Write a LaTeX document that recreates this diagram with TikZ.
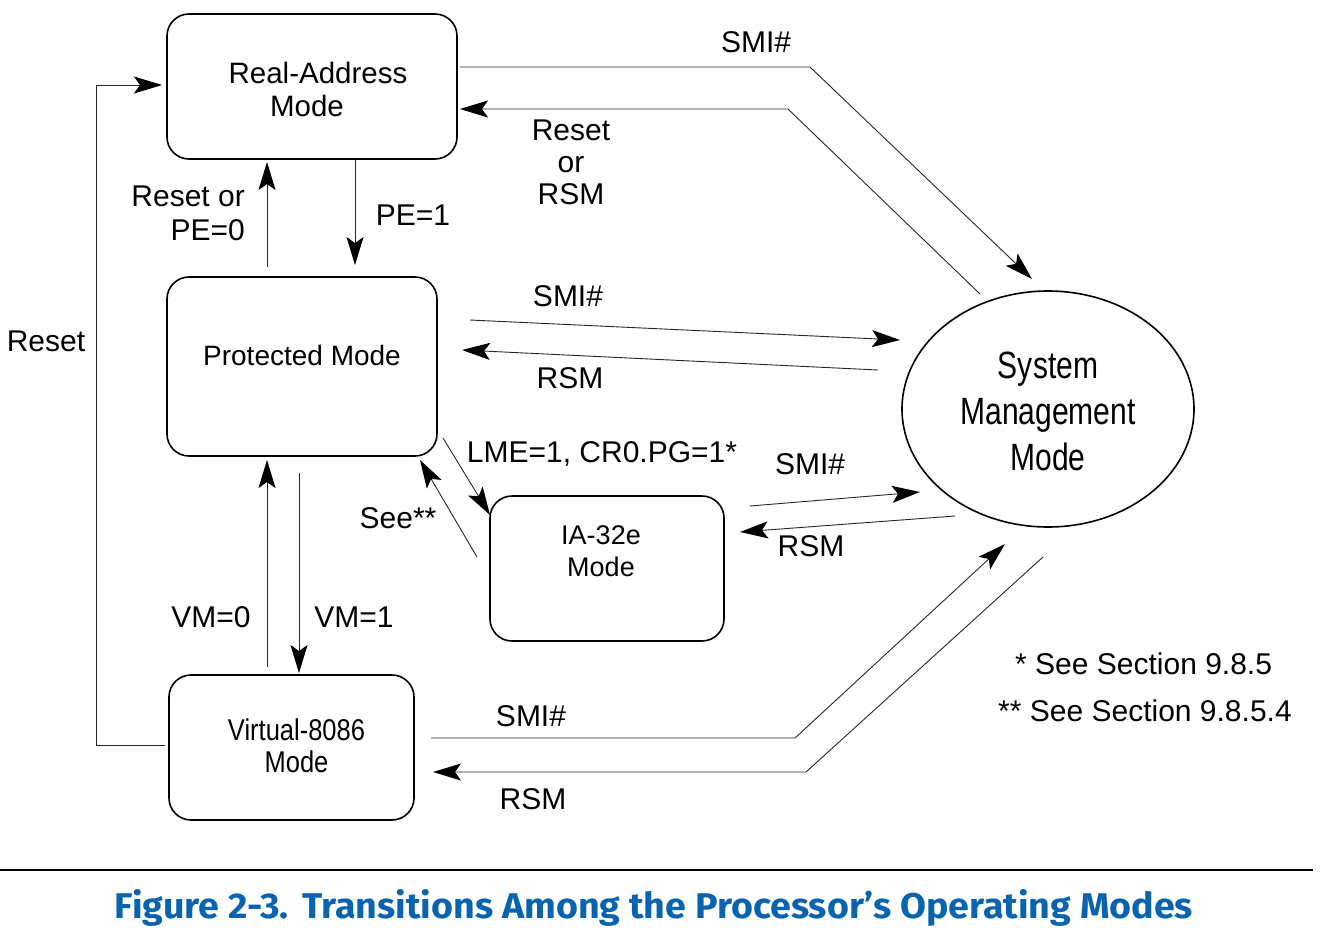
\documentclass[tikz,border=0pt]{standalone}
\usepackage{fontspec}
\setmainfont{Liberation Sans}
\newfontfamily\vfont[FakeStretch=0.85]{Liberation Sans}
\newfontfamily\smmfont[FakeStretch=0.79]{Liberation Sans}
\newfontfamily\capfont{Fira Sans}
\usetikzlibrary{arrows.meta,shapes.geometric}
\definecolor{capblue}{HTML}{0963AE}
\begin{document}
\begin{tikzpicture}[x=1pt,y=-1pt,
  modebox/.style={draw, line width=1.6pt, rounded corners=22pt, inner sep=0pt},
  conn/.style={line width=0.9pt, draw=black!85},
  arr/.style={conn, -{Stealth[length=28pt,width=17pt,inset=6pt,color=black]}},
  lbl/.style={font=\fontsize{30}{33}\selectfont, inner sep=0pt, text height=21.5pt, text depth=0pt},
  mlbl/.style={font=\fontsize{30}{33}\selectfont, inner sep=0pt, align=center},
  btext/.style={font=\fontsize{28}{33}\selectfont, inner sep=0pt, align=center},
]
\useasboundingbox (0,0) rectangle (1322,940);

% mode boxes
\node[modebox, minimum width=290pt, minimum height=145pt,
  label={[name=raT, btext, font=\fontsize{29.5}{33}\selectfont, yshift=-3pt, xshift=6pt]center:Real-Address\\Mode\rule{22pt}{0pt}}] (ra) at (312,86.5) {};
\node[modebox, minimum width=270pt, minimum height=179pt,
  label={[name=pmT, btext, yshift=11.5pt]center:Protected Mode}] (pm) at (302,366.5) {};
\node[modebox, minimum width=234pt, minimum height=145pt,
  label={[name=iaT, btext, font=\fontsize{27}{32}\selectfont, yshift=17.5pt, xshift=-6pt]center:IA-32e\\Mode}] (ia) at (607,568.5) {};
\node[modebox, minimum width=245pt, minimum height=145pt,
  label={[name=vmT, btext, font=\vfont\fontsize{30}{32}\selectfont, yshift=1.5pt, xshift=5pt]center:Virtual-8086\\Mode}] (vm) at (291.5,747.5) {};
\node[draw, ellipse, line width=1.6pt, inner sep=0pt, minimum width=292pt, minimum height=236pt,
  label={[name=smT, inner sep=0pt, align=center, font=\smmfont\fontsize{38}{46}\selectfont, yshift=-2pt]center:System\\Management\\Mode}] (smm) at (1048,409) {};

% connector coordinates
\coordinate (a1) at (460,67);  \coordinate (a1b) at (810,67);  \coordinate (a1e) at (1032,279);
\coordinate (a2) at (980,294); \coordinate (a2b) at (788,109); \coordinate (a2e) at (460,109);
\coordinate (a3) at (355,160); \coordinate (a3e) at (355,265);
\coordinate (a4) at (267,267); \coordinate (a4e) at (267,162);
\coordinate (a5) at (470,320); \coordinate (a5e) at (900,340);
\coordinate (a6) at (878,370); \coordinate (a6e) at (462,350);
\coordinate (a7) at (443,438); \coordinate (a7e) at (490,515);
\coordinate (a8) at (477,557); \coordinate (a8e) at (420,460);
\coordinate (a9) at (750,506); \coordinate (a9e) at (920,492);
\coordinate (a10) at (955,516); \coordinate (a10e) at (740,532);
\coordinate (a11) at (299,473); \coordinate (a11e) at (299,673);
\coordinate (a12) at (267,667); \coordinate (a12e) at (267,460);
\coordinate (a13) at (431,738); \coordinate (a13b) at (795,738); \coordinate (a13e) at (1005,544);
\coordinate (a14) at (1043,557); \coordinate (a14b) at (806,772); \coordinate (a14e) at (433,772);
\coordinate (a15) at (165,745); \coordinate (a15b) at (96,745); \coordinate (a15c) at (96,85); \coordinate (a15e) at (162,85);

% connectors
\draw[arr] (a1) -- (a1b) -- (a1e);
\draw[arr] (a2) -- (a2b) -- (a2e);
\draw[arr] (a3) -- (a3e);
\draw[arr] (a4) -- (a4e);
\draw[arr] (a5) -- (a5e);
\draw[arr] (a6) -- (a6e);
\draw[arr] (a7) -- (a7e);
\draw[arr] (a8) -- (a8e);
\draw[arr] (a9) -- (a9e);
\draw[arr] (a10) -- (a10e);
\draw[arr] (a11) -- (a11e);
\draw[arr] (a12) -- (a12e);
\draw[arr] (a13) -- (a13b) -- (a13e);
\draw[arr] (a14) -- (a14b) -- (a14e);
\draw[arr] (a15) -- (a15b) -- (a15c) -- (a15e);

% labels
\node[lbl] (l1) at (756,42) {SMI\#};
\node[mlbl, font=\fontsize{30}{32}\selectfont] (l2) at (571,162) {Reset\\or\\RSM};
\node[lbl] (l3) at (413,215) {PE=1};
\node[mlbl, align=right, anchor=east, font=\fontsize{30}{34}\selectfont] (l4) at (245,213) {Reset or\\PE=0};
\node[lbl] (l5) at (568,296) {SMI\#};
\node[lbl] (l6) at (570,378) {RSM};
\node[lbl] (l7) at (602,452) {LME=1, CR0.PG=1*};
\node[lbl] (l8) at (398,518) {See**};
\node[lbl] (l9) at (810,464) {SMI\#};
\node[lbl] (l10) at (811,546) {RSM};
\node[lbl] (l11) at (211,617) {VM=0};
\node[lbl] (l12) at (354,617) {VM=1};
\node[lbl] (l13) at (531,716) {SMI\#};
\node[lbl] (l14) at (533,799) {RSM};
\node[lbl] (l15) at (46,341) {Reset};

% footnotes
\node[lbl, anchor=west] (f1) at (1015,664) {* See Section 9.8.5};
\node[lbl, anchor=west] (f2) at (998,711) {** See Section 9.8.5.4};

% rule and caption
\coordinate (r1) at (0,870); \coordinate (r2) at (1313,870);
\draw[line width=2pt] (r1) -- (r2);
\node[anchor=base, text=capblue, inner sep=0pt] (cap) at (654,918)
  {\resizebox{1078pt}{29pt}{\capfont\bfseries Figure 2-3.\hspace{0.05em} Transitions Among the Processor’s Operating Modes}};
\end{tikzpicture}
\end{document}
